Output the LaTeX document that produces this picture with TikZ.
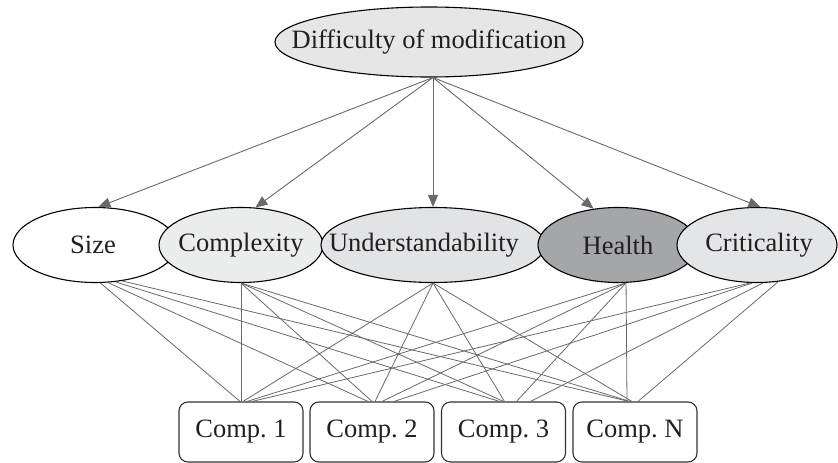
\documentclass[tikz,border=0pt]{standalone}
\usepackage{fontspec}
\setmainfont{Liberation Serif}
\usetikzlibrary{shapes.geometric,arrows.meta}
\definecolor{edgegray}{RGB}{105,105,105}
\definecolor{textcol}{RGB}{35,31,32}
\definecolor{topfill}{RGB}{230,230,230}
\definecolor{cplxfill}{RGB}{235,236,236}
\definecolor{undfill}{RGB}{226,227,229}
\definecolor{healthfill}{RGB}{165,166,169}
\definecolor{critfill}{RGB}{228,229,231}
\frenchspacing
\begin{document}
\begin{tikzpicture}[x=1pt,y=-1pt,
  ell/.style={ellipse,draw=black,line width=1.1pt,inner sep=0pt,minimum height=75pt},
  comp/.style={rectangle,draw=black!80,rounded corners=9pt,line width=1.1pt,
    minimum width=124pt,minimum height=60pt,inner sep=0pt},
  arr/.style={draw=edgegray,line width=0.9pt,-{Triangle[length=12pt,width=10pt,fill=edgegray]}},
  lnk/.style={draw=edgegray,line width=0.8pt},
  font=\fontsize{26.5}{30}\selectfont, text=textcol]
\useasboundingbox (0,0) rectangle (838,463);

% top node
\node[ell,fill=topfill,minimum width=308pt,minimum height=70pt] (top) at (429,42)
  {\makebox[0pt]{Difficulty of modification}};

% middle ellipses
\node[ell,fill=white,minimum width=164pt] (size) at (95,245) {\makebox[0pt]{Size\hspace{4pt}}};
\node[ell,fill=cplxfill,minimum width=164pt] (cplx) at (241,245) {\makebox[0pt]{Complexity}};
\node[ell,fill=undfill,minimum width=224pt] (und) at (433,245) {\makebox[0pt]{Understandability\hspace{18pt}}};
\node[ell,fill=healthfill,minimum width=160pt] (health) at (618,245) {\makebox[0pt]{Health}};
\node[ell,fill=critfill,minimum width=160pt] (crit) at (757,245) {\makebox[0pt]{\hspace{4pt}Criticality}};

% components
\node[comp] (c1) at (241,432) {Comp. 1};
\node[comp] (c2) at (372,432) {Comp. 2};
\node[comp] (c3) at (503.5,432) {Comp. 3};
\node[comp] (c4) at (635,432) {Comp. N};

% arrows from top
\coordinate (topout) at ([xshift=4pt]top.south);
\draw[arr] (topout) -- (size.85);
\draw[arr] (topout) -- (cplx.69);
\draw[arr] (topout) -- (und.north);
\draw[arr] (topout) -- (health.124);
\draw[arr] (topout) -- (crit.85);

% links from Size
\draw[lnk] (size.-82) -- ([xshift=-1pt]c1.north);
\draw[lnk] (size.-71) -- ([xshift=-4pt]c2.north);
\draw[lnk] (size.-61) -- ([xshift=-4pt]c3.north);
\draw[lnk] (size.-53) -- ([xshift=-6pt]c4.north);
% links from Complexity
\draw[lnk] (cplx.south) -- (c1.north);
\draw[lnk] (cplx.south) -- (c2.north);
\draw[lnk] (cplx.south) -- (c3.north);
\draw[lnk] (cplx.south) -- ([xshift=-5pt]c4.north);
% links from Understandability
\draw[lnk] (und.south) -- ([xshift=2pt]c1.north);
\draw[lnk] (und.south) -- ([xshift=3pt]c2.north);
\draw[lnk] (und.south) -- ([xshift=1pt]c3.north);
\draw[lnk] (und.south) -- ([xshift=-3pt]c4.north);
% links from Health
\draw[lnk] (health.-78) -- ([xshift=6pt]c1.north);
\draw[lnk] (health.-78) -- ([xshift=10pt]c2.north);
\draw[lnk] (health.-78) -- ([xshift=13pt]c3.north);
\draw[lnk] (health.-78) -- ([xshift=-8pt]c4.north);
% links from Criticality
\draw[lnk] (crit.-100) -- ([xshift=11pt]c1.north);
\draw[lnk] (crit.-97) -- ([xshift=22pt]c2.north);
\draw[lnk] (crit.-81) -- ([xshift=27pt]c3.north);
\draw[lnk] (crit.-60) -- ([xshift=3pt]c4.north);
\end{tikzpicture}
\end{document}
